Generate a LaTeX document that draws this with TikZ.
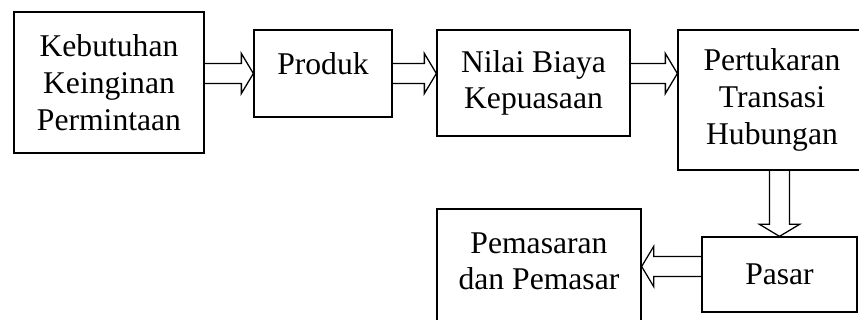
\documentclass[tikz,border=0pt]{standalone}
\usepackage{fontspec}
\setmainfont{Liberation Serif}
\usetikzlibrary{calc}
\def\fatarrow(#1)(#2){\draw[fat] let \p1=($(#2)-(#1)$), \n1={atan2(\y1,\x1)}, \n2={veclen(\x1,\y1)} in [shift={(#1)},rotate=\n1] (0cm,0.25cm) -- ({\n2-0.3cm},0.25cm) -- ({\n2-0.3cm},0.5cm) -- ({\n2},0cm) -- ({\n2-0.3cm},-0.5cm) -- ({\n2-0.3cm},-0.25cm) -- (0cm,-0.25cm);}

\begin{document}
\begin{tikzpicture}[box/.style={draw, line width=0.9pt, align=center, inner sep=0pt, font=\fontsize{22.5pt}{26.1pt}\selectfont}, fat/.style={line width=0.9pt, line join=miter}]
			%%%%% START %%%%%
			\useasboundingbox (0, 0) rectangle (21.475, 8);
			\clip (0, 0) rectangle (21.475, 8);
			
			\node[box, minimum width=4.75cm, minimum height=3.525cm] (keb) at (2.725, 5.9375) {Kebutuhan\\Keinginan\\Permintaan};
			\node[box, minimum width=3.45cm, text height=1.125cm, text depth=1.05cm] (prod) at (8.075, 6.1625) {Produk};
			\node[box, minimum width=4.825cm, minimum height=2.65cm] (nilai) at (13.3375, 5.925) {Nilai Biaya\\Kepuasaan};
			\node[box, minimum width=4.7cm, minimum height=3.5cm] (pert) at (19.3, 5.5) {Pertukaran\\Transasi\\Hubungan};
			
			\node[box, minimum width=3.875cm, minimum height=1.875cm] (pasar) at (19.4875, 1.1375) {Pasar};
			\node[box, minimum width=5.1cm, minimum height=3.525cm] (pem) at (13.475, 1.0125) {Pemasaran\\dan Pemasar\\~};
			
			\coordinate (m5) at ($(pasar.west)+(0, 0.2)$);
			
			\fatarrow(keb.east|-prod.west)(prod.west)
			\fatarrow(prod.east)(nilai.west|-prod.east)
			\fatarrow(nilai.east|-prod.east)(pert.west|-prod.east)
			\fatarrow(pert.south-|pasar.north)(pasar.north)
			\fatarrow(m5)(pem.east|-m5)
			
			%%%%% END %%%%%
\end{tikzpicture}
\end{document}
